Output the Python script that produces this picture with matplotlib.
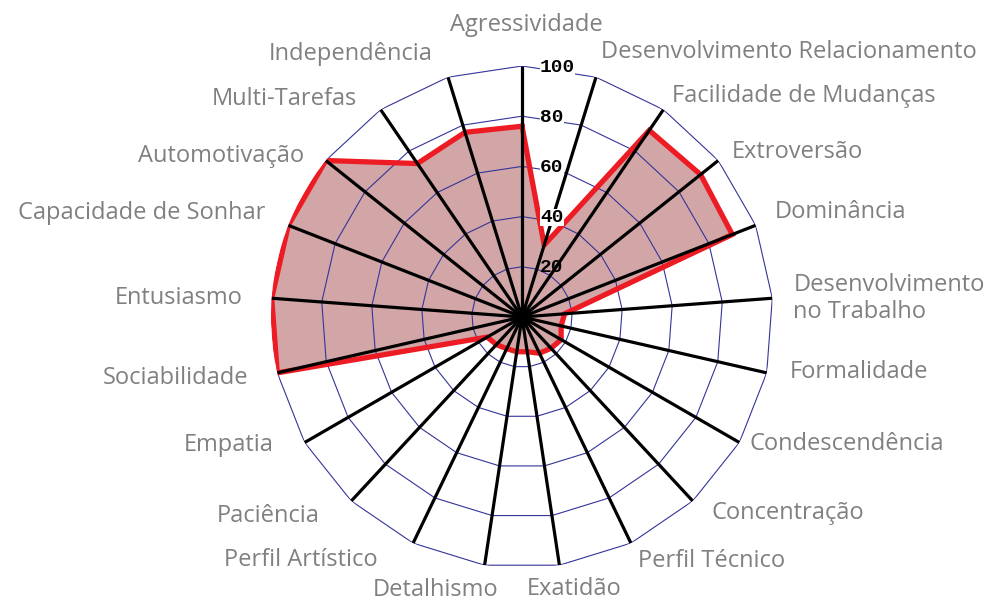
import numpy as np
import matplotlib
matplotlib.use("Agg")
import matplotlib.pyplot as plt

categories = ["Agressividade", "Desenvolvimento Relacionamento", "Facilidade de Mudanças",
              "Extroversão", "Dominância", "Desenvolvimento\nno Trabalho", "Formalidade",
              "Condescendência", "Concentração", "Perfil Técnico", "Exatidão", "Detalhismo",
              "Perfil Artístico", "Paciência", "Empatia", "Sociabilidade", "Entusiasmo",
              "Capacidade de Sonhar", "Automotivação", "Multi-Tarefas", "Independência"]
values = [76, 30, 90, 91, 90, 17, 16, 18, 17, 16, 14, 14, 14, 15, 16,
          100, 100, 100, 100, 74, 77]
levels = [20, 40, 60, 80, 100]

# label layout: (ha, dx px, dy px) relative to spoke end (dy positive = down)
label_layout = [("center", 4, -41), ("left", 5, -25), ("left", 9, -14), ("left", 14, -9),
                ("left", 19, -13), ("left", 21, 0), ("left", 23, -1), ("left", 10, 2),
                ("left", 19, 12), ("left", 7, 18), ("left", -33, 24), ("right", 14, 25),
                ("right", -35, 17), ("right", -32, 15), ("right", -31, 2), ("right", -29, 5),
                ("right", -29, 0), ("right", -23, -12), ("right", -22, -5), ("right", -24, -11),
                ("right", -15, -23)]

n = len(categories)
theta = np.arange(n) * 2 * np.pi / n
theta_c = np.append(theta, theta[0])
vals_c = np.append(values, values[0])

fig = plt.figure(figsize=(9.87, 6.01), dpi=100)
ax = fig.add_axes([271 / 987, 33 / 601, 502 / 987, 502 / 601], projection="polar")
ax.set_theta_zero_location("N")
ax.set_theta_direction(-1)
ax.set_ylim(0, 100)
ax.grid(False)
ax.set_xticks([])
ax.set_yticks([])
ax.spines["polar"].set_visible(False)
ax.patch.set_alpha(0)

# fill
ax.fill(theta_c, vals_c, color="#D2A6A6", zorder=1, linewidth=0)
# rings
for lv in levels:
    ax.plot(theta_c, [lv] * (n + 1), color="#34349A", lw=0.8, zorder=2)
# data line
ax.plot(theta_c, vals_c, color="#ED1C24", lw=3.8, zorder=3, solid_joinstyle="miter")
# spokes
for t in theta:
    ax.plot([t, t], [0, 100], color="black", lw=2.3, zorder=4, solid_capstyle="butt")

# level labels
for lv in levels:
    bbox = dict(facecolor="white", edgecolor="none", pad=0) if lv > levels[0] else None
    ax.annotate(str(lv), xy=(0, lv), xytext=(18, -1), textcoords="offset pixels",
                ha="left", va="center", fontfamily="Liberation Mono", fontweight="bold",
                fontsize=14, color="black", zorder=6, bbox=bbox, annotation_clip=False)

# category labels
for t, name, (ha, dx, dy) in zip(theta, categories, label_layout):
    ax.annotate(name, xy=(t, 100), xytext=(dx, -dy), textcoords="offset pixels",
                ha=ha, va="center", fontfamily="Open Sans", fontsize=17, color="#808080",
                linespacing=1.15, zorder=5, annotation_clip=False,
                bbox=dict(facecolor="white", edgecolor="none", pad=1))

fig.savefig("out.png", dpi=100)
